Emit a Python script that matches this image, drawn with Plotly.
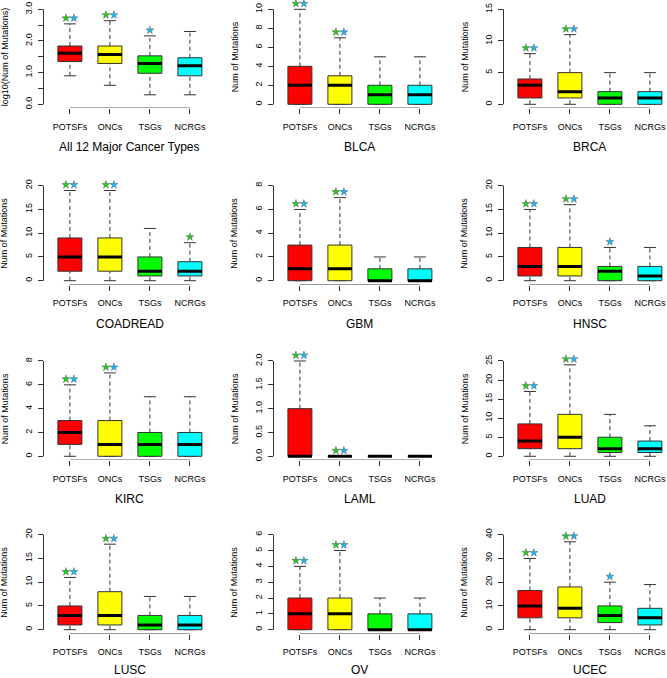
import plotly.graph_objects as go

# ---------------- data ----------------
panels = ["All 12 Major Cancer Types", "BLCA", "BRCA", "COADREAD", "GBM", "HNSC",
          "KIRC", "LAML", "LUAD", "LUSC", "OV", "UCEC"]
groups = ["POTSFs", "ONCs", "TSGs", "NCRGs"]
box_colors = ["#FF0000", "#FFFF00", "#00FF00", "#00FFFF"]

lower_whisker = [
    [0.90, 0.60, 0.30, 0.30],
    [0, 0, 0, 0], [0, 0, 0, 0], [0, 0, 0, 0], [0, 0, 0, 0], [0, 0, 0, 0],
    [0, 0, 0, 0], [0, 0, 0, 0], [0, 0, 0, 0], [0, 0, 0, 0], [0, 0, 0, 0], [0, 0, 0, 0],
]
q1 = [
    [1.35, 1.29, 0.98, 0.90],
    [0, 0, 0, 0], [1, 1, 0, 0], [2, 2, 1, 1], [0, 0, 0, 0], [1, 1, 0, 0],
    [1, 0, 0, 0], [0, 0, 0, 0], [2, 2, 1, 1], [1, 1, 0, 0], [0, 0, 0, 0], [5, 5, 3, 2],
]
median = [
    [1.61, 1.57, 1.29, 1.22],
    [2, 2, 1, 1], [3, 2, 1, 1], [5, 5, 2, 2], [1, 1, 0, 0], [3, 3, 2, 1],
    [2, 1, 1, 1], [0, 0, 0, 0], [4, 5, 2, 2], [3, 3, 1, 1], [1, 1, 0, 0], [10, 9, 6, 5],
]
q3 = [
    [1.84, 1.84, 1.53, 1.47],
    [4, 3, 2, 2], [4, 5, 2, 2], [9, 9, 5, 4], [3, 3, 1, 1], [7, 7, 3, 3],
    [3, 3, 2, 2], [1, 0, 0, 0], [8.5, 11, 5, 4], [5, 8, 3, 3], [2, 2, 1, 1], [16.5, 18, 10, 9],
]
upper_whisker = [
    [2.54, 2.64, 2.16, 2.30],
    [10, 7, 5, 5], [8, 11, 5, 5], [19, 19, 11, 8], [6, 7, 2, 2], [15, 16, 7, 7],
    [6, 7, 5, 5], [2, 0, 0, 0], [17, 24, 11, 8], [11, 18, 7, 7], [4, 5, 2, 2], [30, 37, 20, 19],
]
green_star = [
    [1, 1, 0, 0], [1, 1, 0, 0], [1, 1, 0, 0], [1, 1, 0, 1], [1, 1, 0, 0], [1, 1, 0, 0],
    [1, 1, 0, 0], [1, 1, 0, 0], [1, 1, 0, 0], [1, 1, 0, 0], [1, 1, 0, 0], [1, 1, 0, 0],
]
cyan_star = [
    [1, 1, 1, 0], [1, 1, 0, 0], [1, 1, 0, 0], [1, 1, 0, 0], [1, 1, 0, 0], [1, 1, 1, 0],
    [1, 1, 0, 0], [1, 1, 0, 0], [1, 1, 0, 0], [1, 1, 0, 0], [1, 1, 0, 0], [1, 1, 1, 0],
]
y_top = [3, 10, 15, 20, 8, 20, 8, 2, 25, 20, 6, 40]
y_step = [0.5, 2, 5, 5, 2, 5, 2, 0.5, 5, 5, 1, 10]
y_label_step = [1.0, 2, 5, 5, 2, 5, 2, 0.5, 5, 5, 1, 10]
y_titles = ["log10(Num of Mutations)"] + ["Num of Mutations"] * 11

# ---------------- layout geometry (pixels) ----------------
W, H = 667, 678
col_left = [43.5, 273.5, 503.5]
row_top_tick = [9.3, 185.7, 361.0, 534.7]
row_zero = [104.3, 280.7, 456.3, 629.7]
px_per_unit_x = 40.0
x_lo = 0.34
x_hi = 4.66

FONT = "Liberation Sans, Arial, Helvetica, sans-serif"
EDGE = "#333333"
BOXW = 0.6
CAPW = 0.3

fig = go.Figure()
layout = dict(
    width=W, height=H, margin=dict(l=0, r=0, t=0, b=0),
    paper_bgcolor="white", plot_bgcolor="white", showlegend=False,
    font=dict(family=FONT, color="black"),
)
shapes = []
annotations = []

for p in range(12):
    r, c = divmod(p, 3)
    n = p + 1
    xs = "" if n == 1 else str(n)
    xname, yname = "x" + xs, "y" + xs
    T = y_top[p]
    span = row_zero[r] - row_top_tick[r]
    ext = 0.04 * span
    top_px = row_top_tick[r] - ext
    bot_px = row_zero[r] + ext
    top_px_ext = row_top_tick[r] - 0.08 * span  # extra room so stars are not clipped
    left_px = col_left[c]
    right_px = min(left_px + (x_hi - x_lo) * px_per_unit_x, W)
    xr_hi = x_lo + (right_px - left_px) / px_per_unit_x

    # ticks
    nt = int(round(T / y_step[p]))
    tv = [round(k * y_step[p], 6) for k in range(nt + 1)]
    tt = []
    for v in tv:
        ratio = v / y_label_step[p]
        if abs(ratio - round(ratio)) < 1e-6:
            if y_label_step[p] < 1 or p == 0:
                tt.append(f"{v:.1f}")
            else:
                tt.append(f"{int(round(v))}")
        else:
            tt.append("")

    layout["xaxis" + xs] = dict(
        domain=[left_px / W, right_px / W], range=[x_lo, xr_hi], anchor=yname,
        tickvals=[1, 2, 3, 4], ticktext=groups, ticks="outside", ticklen=5,
        tickwidth=1, tickcolor=EDGE, showline=False, showgrid=False, zeroline=False,
        tickfont=dict(size=9, family=FONT, color="black"), ticklabelstandoff=5,
        fixedrange=True,
    )
    layout["yaxis" + xs] = dict(
        domain=[1 - bot_px / H, 1 - top_px_ext / H], range=[-0.04 * T, 1.08 * T], anchor=xname,
        tickvals=tv, ticktext=tt, ticks="outside", ticklen=5, tickwidth=1, tickcolor=EDGE,
        tickangle=-90, showline=False, showgrid=False, zeroline=False,
        tickfont=dict(size=9, family=FONT, color="black"), ticklabelstandoff=2,
        fixedrange=True,
    )
    # R-style axis lines (from first to last tick)
    shapes.append(dict(type="line", xref=xname, yref=yname, x0=1, x1=4, y0=-0.04 * T, y1=-0.04 * T,
                       line=dict(color=EDGE, width=1)))
    shapes.append(dict(type="line", xref=xname + " domain", yref=yname, x0=0, x1=0, y0=0, y1=T,
                       line=dict(color=EDGE, width=1)))

    # whiskers (dashed)
    wx, wy = [], []
    cx, cy = [], []
    for g in range(4):
        xc = g + 1
        wx += [xc, xc, None, xc, xc, None]
        wy += [q3[p][g], upper_whisker[p][g], None, lower_whisker[p][g], q1[p][g], None]
        cx += [xc - CAPW / 2, xc + CAPW / 2, None, xc - CAPW / 2, xc + CAPW / 2, None]
        cy += [upper_whisker[p][g], upper_whisker[p][g], None,
               lower_whisker[p][g], lower_whisker[p][g], None]
    fig.add_trace(go.Scatter(x=wx, y=wy, mode="lines", xaxis=xname, yaxis=yname,
                             line=dict(color=EDGE, width=1, dash="4px,3px"), hoverinfo="skip"))
    fig.add_trace(go.Scatter(x=cx, y=cy, mode="lines", xaxis=xname, yaxis=yname,
                             line=dict(color=EDGE, width=1), hoverinfo="skip"))
    # boxes
    for g in range(4):
        xc = g + 1
        x0, x1 = xc - BOXW / 2, xc + BOXW / 2
        fig.add_trace(go.Scatter(
            x=[x0, x1, x1, x0, x0], y=[q1[p][g], q1[p][g], q3[p][g], q3[p][g], q1[p][g]],
            mode="lines", fill="toself", fillcolor=box_colors[g],
            line=dict(color=EDGE, width=1), xaxis=xname, yaxis=yname,
            name=groups[g], hoverinfo="skip"))
    # medians
    mx, my = [], []
    for g in range(4):
        xc = g + 1
        mx += [xc - BOXW / 2, xc + BOXW / 2, None]
        my += [median[p][g], median[p][g], None]
    fig.add_trace(go.Scatter(x=mx, y=my, mode="lines", xaxis=xname, yaxis=yname,
                             line=dict(color="black", width=3), hoverinfo="skip"))
    # significance stars
    off = 0.06 * T
    for flags, other, color, side in [(green_star[p], cyan_star[p], "#22CC22", -1),
                                       (cyan_star[p], green_star[p], "#1CB8F0", 1)]:
        sx, sy = [], []
        for g in range(4):
            if flags[g]:
                dx = 0.1 * side if other[g] else 0.0
                sx.append(g + 1 + dx)
                sy.append(upper_whisker[p][g] + off)
        if sx:
            fig.add_trace(go.Scatter(
                x=sx, y=sy, mode="markers", xaxis=xname, yaxis=yname, cliponaxis=False,
                marker=dict(symbol="star", size=6, color=color,
                            line=dict(color="#444444", width=0.4)),
                hoverinfo="skip"))

    # y-axis title
    annotations.append(dict(
        text=y_titles[p], xref="paper", yref="paper",
        x=(left_px - 39) / W, y=1 - ((top_px + bot_px) / 2) / H,
        xanchor="center", yanchor="middle", textangle=-90, showarrow=False,
        font=dict(size=9, family=FONT, color="black")))
    # panel title (below x axis); kept inside the page
    title_px = min(row_zero[r] + 42.8, H - 8)
    annotations.append(dict(
        text=panels[p], xref=xname, yref="paper", x=2.5,
        y=1 - title_px / H, xanchor="center", yanchor="middle",
        showarrow=False, font=dict(size=12, family=FONT, color="black")))

layout["shapes"] = shapes
layout["annotations"] = annotations
fig.update_layout(**layout)
fig.write_html("out.html", config={"displayModeBar": False},
               post_script="document.body.style.margin='0';document.body.style.overflow='hidden';")
